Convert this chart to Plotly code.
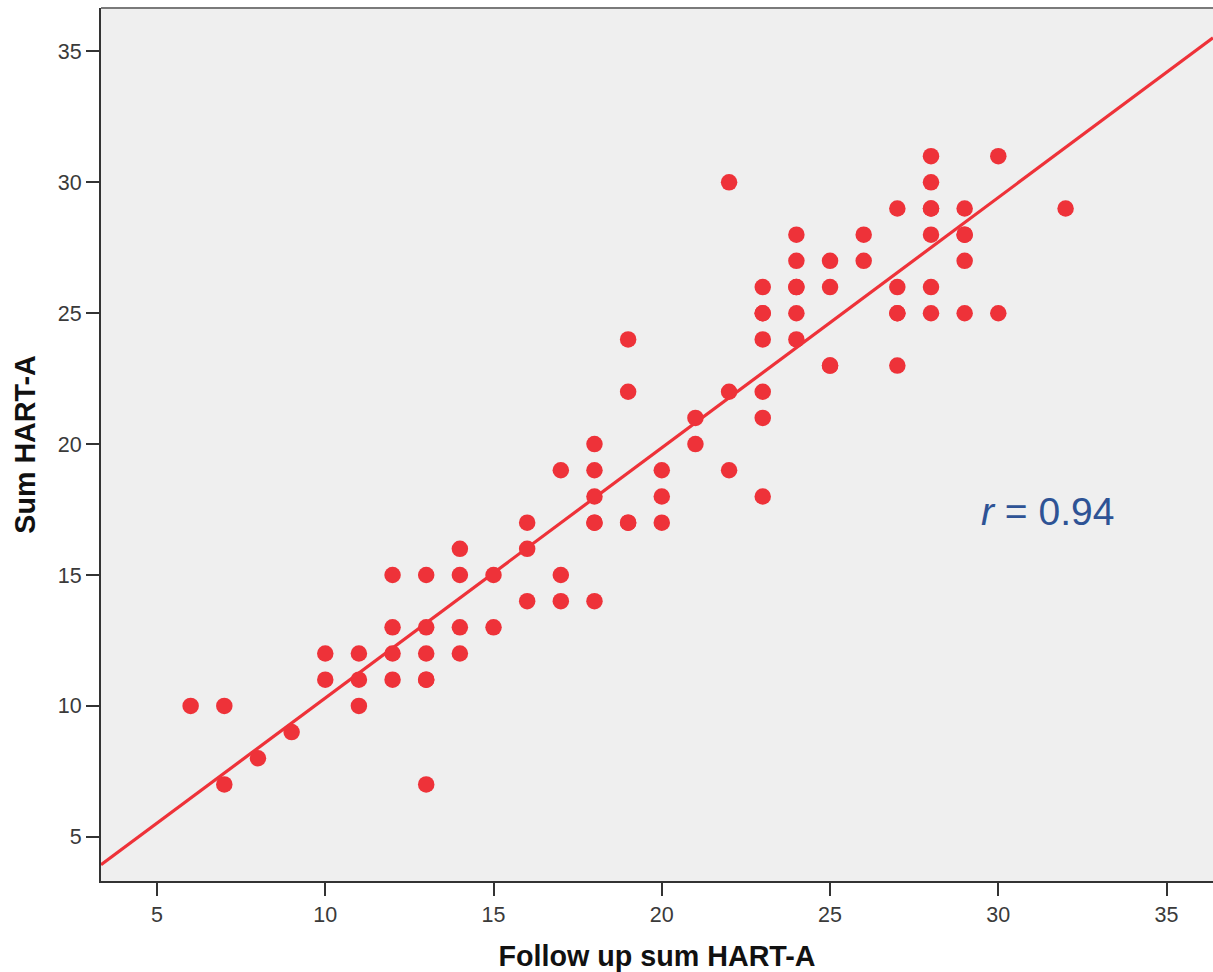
import plotly.graph_objects as go

# Data (duplicates where markers overlap)
follow_up_sum = [6, 7, 7, 8, 9,
                 10, 10, 11, 11, 11,
                 12, 12, 12, 12,
                 13, 13, 13, 13, 13, 13,
                 14, 14, 14, 14,
                 15, 15,
                 16, 16, 16,
                 17, 17, 17,
                 18, 18, 18, 18, 18, 18,
                 19, 19, 19, 19,
                 20, 20, 20,
                 21, 21,
                 22, 22, 22,
                 23, 23, 23, 23, 23, 23, 23,
                 24, 24, 24, 24, 24, 24,
                 25, 25, 25, 25,
                 26, 26,
                 27, 27, 27, 27, 27,
                 28, 28, 28, 28, 28, 28, 28,
                 29, 29, 29, 29, 29,
                 30, 30,
                 32]
sum_hart = [10, 10, 7, 8, 9,
            12, 11, 12, 11, 10,
            15, 13, 12, 11,
            15, 13, 12, 11, 11, 7,
            16, 15, 13, 12,
            15, 13,
            17, 16, 14,
            19, 15, 14,
            20, 19, 18, 17, 17, 14,
            24, 22, 17, 17,
            19, 18, 17,
            21, 20,
            30, 22, 19,
            26, 25, 25, 24, 22, 21, 18,
            28, 27, 26, 26, 25, 24,
            27, 26, 23, 23,
            28, 27,
            29, 26, 25, 25, 23,
            31, 30, 29, 29, 28, 26, 25,
            29, 28, 28, 27, 25,
            31, 25,
            29]

# Fit line
fit_intercept = 0.74
fit_slope = 0.956
r_label = "<i>r</i> = 0.94"
x_title = "Follow up sum HART-A"
y_title = "Sum HART-A"
x_ticks = [5, 10, 15, 20, 25, 30, 35]
y_ticks = [5, 10, 15, 20, 25, 30, 35]

x_range = [3.336, 36.38]
y_range = [3.31, 36.66]

red = "#EE3239"

fig = go.Figure()
line_x = list(x_range)
line_y = [fit_intercept + fit_slope * v for v in line_x]
fig.add_trace(go.Scatter(x=line_x, y=line_y, mode="lines",
                         line=dict(color=red, width=3.2), hoverinfo="skip",
                         showlegend=False))
fig.add_trace(go.Scatter(x=follow_up_sum, y=sum_hart, mode="markers",
                         marker=dict(color=red, size=16.5, line=dict(width=0)),
                         showlegend=False))

fig.add_annotation(x=31.46, y=17.42, xref="x", yref="y", text=r_label,
                   showarrow=False, xanchor="center", yanchor="middle",
                   font=dict(family="Liberation Sans, Arial", size=39, color="#2E5395"))

fig.add_shape(type="line", xref="paper", yref="paper", x0=0, x1=1, y0=1, y1=1,
              line=dict(color="#7A7A7A", width=2))

axis_common = dict(
    showgrid=False, zeroline=False, showline=True, linecolor="#333333", linewidth=2,
    ticks="outside", ticklen=13, tickwidth=2, tickcolor="#333333",
    tickfont=dict(family="Liberation Sans, Arial", size=21.5, color="#3A3A3A"),
)

title_font = dict(family="Liberation Sans, Arial", size=28.7, color="#111111")
fig.update_xaxes(range=x_range, tickvals=x_ticks, **axis_common,
                 title=dict(text=f"<b>{x_title}</b>", standoff=20, font=title_font))
fig.update_yaxes(range=y_range, tickvals=y_ticks, **axis_common,
                 title=dict(text=f"<b>{y_title}</b>", standoff=14, font=title_font))

fig.update_layout(
    width=1213, height=972,
    margin=dict(l=101, r=0, t=8, b=91),
    plot_bgcolor="#EFEFEF", paper_bgcolor="white",
)

fig.write_html("out.html", config={"displayModeBar": False},
               post_script="document.body.style.margin='0';document.body.style.overflow='hidden';")
